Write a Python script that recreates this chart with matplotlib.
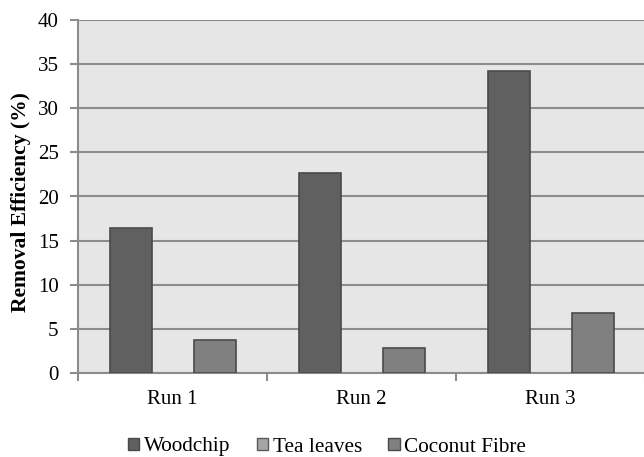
import matplotlib
matplotlib.use("Agg")
import matplotlib.pyplot as plt
import numpy as np
from matplotlib.patches import Patch

categories = ["Run 1", "Run 2", "Run 3"]
series_names = ["Woodchip", "Tea leaves", "Coconut Fibre"]
woodchip = [16.4, 22.7, 34.2]
tea_leaves = [0, 0, 0]
coconut_fibre = [3.7, 2.8, 6.8]
yticks = [0, 5, 10, 15, 20, 25, 30, 35, 40]

plt.rcParams['font.family'] = ['Liberation Serif', 'DejaVu Serif']

fig = plt.figure(figsize=(6.44, 4.57), dpi=100)
ax = fig.add_axes([78/644, 1-373/457, 567/644, 353/457])
ax.set_facecolor('#e6e6e6')

faces = ['#606060', '#a6a6a6', '#808080']
edges = ['#4a4a4a', '#5a5a5a', '#4a4a4a']
data = [woodchip, tea_leaves, coconut_fibre]
x = np.arange(len(categories))
w = 42/189
for i, (vals, fc, ec) in enumerate(zip(data, faces, edges)):
    vals = np.array(vals, dtype=float)
    lw = np.where(vals > 0, 1.2, 0)
    ax.bar(x + (i-1)*w, vals, width=w, color=fc, edgecolor=ec, linewidth=lw, zorder=3)

ax.set_xlim(-0.5, 2.5)
ax.set_ylim(0, 40)
ax.set_yticks(yticks)
ax.yaxis.grid(True, color='#8c8c8c', linewidth=1.5, zorder=1)
ax.set_axisbelow(True)
for s in ['top', 'right']:
    ax.spines[s].set_visible(False)
ax.spines['left'].set_color('#8c8c8c')
ax.spines['left'].set_linewidth(1.5)
ax.spines['bottom'].set_color('#8c8c8c')
ax.spines['bottom'].set_linewidth(1.5)
ax.tick_params(axis='y', length=6, width=1.5, color='#8c8c8c', labelsize=15, pad=8)
ax.set_xticks([-0.5, 0.5, 1.5, 2.5])
ax.set_xticklabels([])
ax.set_xticks(x, minor=True)
ax.set_xticklabels(categories, minor=True)
ax.tick_params(axis='x', which='major', length=6, width=1.5, color='#8c8c8c')
ax.tick_params(axis='x', which='minor', length=0, labelsize=15, pad=12)
fig.text(21/644, 1-202/457, 'Removal Efficiency (%)', rotation=90, ha='center', va='center',
         fontsize=15.5, fontweight='bold')

handles = [Patch(facecolor=fc, edgecolor=ec, linewidth=1.0) for fc, ec in zip(faces, edges)]
fig.legend(handles, series_names, loc='center', bbox_to_anchor=(0.5 + 5/644, 1-447/457), ncol=3,
           frameon=False, fontsize=15.3, handlelength=0.55, handleheight=0.55,
           handletextpad=0.2, columnspacing=1.25, borderpad=0)

fig.savefig('out.png', dpi=100)
